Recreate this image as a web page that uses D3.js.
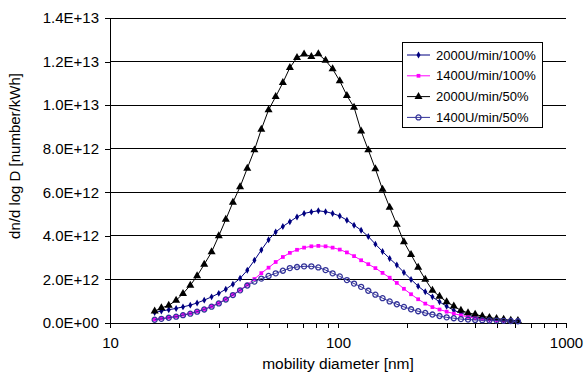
<!DOCTYPE html>
<html>
<head>
<meta charset="utf-8">
<script src="https://cdn.jsdelivr.net/npm/d3@7/dist/d3.min.js"></script>
<style>
  body { margin: 0; background: #fff; }
  svg { display: block; font-family: 'Liberation Sans', Arial, sans-serif; }
</style>
</head>
<body>
<figure id="graph" style="margin:0"></figure>
<script>
// mobility diameter [nm], one entry per SMPS channel
const diameters = [
  15.7, 16.8, 18.1, 19.5, 20.9, 22.5, 24.1, 25.9, 27.9, 30.0,
  32.2, 34.6, 37.2, 40.0, 43.0, 46.1, 49.6, 53.3, 57.3, 61.5,
  66.1, 71.0, 76.4, 82.0, 88.2, 94.7, 101.8, 109.4, 117.6, 126.3,
  135.8, 145.9, 156.8, 168.5, 181.1, 194.6, 209.1, 224.7, 241.4, 259.5,
  278.8, 299.6, 322.0, 346.0, 371.8, 399.5, 429.4, 461.4, 495.8, 532.8,
  572.5, 615.3
]

// dn/dlogD values in units of 1E+12 number/kWh
const rpm2000Full = [
  0.48, 0.55, 0.61, 0.67, 0.74, 0.82, 0.92, 1.05, 1.20, 1.36,
  1.55, 1.78, 2.05, 2.42, 2.88, 3.35, 3.82, 4.18, 4.43, 4.65,
  4.87, 5.03, 5.10, 5.15, 5.11, 5.03, 4.91, 4.72, 4.49, 4.26,
  3.97, 3.62, 3.28, 2.96, 2.66, 2.32, 2.00, 1.69, 1.43, 1.20,
  0.97, 0.77, 0.58, 0.46, 0.35, 0.28, 0.23, 0.18, 0.15, 0.12,
  0.11, 0.10
]
const rpm1400Full = [
  0.17, 0.21, 0.26, 0.31, 0.38, 0.45, 0.54, 0.64, 0.77, 0.92,
  1.10, 1.30, 1.52, 1.76, 2.02, 2.29, 2.54, 2.80, 3.03, 3.22,
  3.36, 3.46, 3.52, 3.54, 3.52, 3.46, 3.37, 3.24, 3.07, 2.88,
  2.70, 2.52, 2.30, 2.08, 1.84, 1.57, 1.32, 1.09, 0.89, 0.73,
  0.62, 0.52, 0.43, 0.35, 0.28, 0.23, 0.19, 0.16, 0.14, 0.12,
  0.10, 0.09
]
const rpm2000Half = [
  0.54, 0.69, 0.81, 1.04, 1.35, 1.73, 2.16, 2.69, 3.26, 4.00,
  4.75, 5.54, 6.25, 7.10, 7.94, 8.89, 9.78, 10.39, 11.03, 11.72,
  12.18, 12.34, 12.23, 12.35, 12.05, 11.66, 11.11, 10.44, 9.90, 8.81,
  7.94, 7.07, 6.13, 5.31, 4.52, 3.72, 3.14, 2.55, 2.00, 1.50,
  1.22, 0.97, 0.77, 0.58, 0.46, 0.40, 0.31, 0.25, 0.20, 0.17,
  0.12, 0.11
]
const rpm1400Half = [
  0.15, 0.19, 0.24, 0.29, 0.36, 0.43, 0.52, 0.62, 0.75, 0.90,
  1.08, 1.28, 1.50, 1.72, 1.90, 2.04, 2.16, 2.28, 2.40, 2.52,
  2.57, 2.60, 2.60, 2.55, 2.43, 2.28, 2.14, 1.97, 1.81, 1.66,
  1.48, 1.30, 1.14, 0.99, 0.86, 0.74, 0.63, 0.54, 0.46, 0.39,
  0.32, 0.26, 0.22, 0.18, 0.16, 0.14, 0.13, 0.12, 0.11, 0.10,
  0.09, 0.08
]

const seriesNames = ['2000U/min/100%', '1400U/min/100%', '2000U/min/50%', '1400U/min/50%']
const yTickValues = [0, 2, 4, 6, 8, 10, 12, 14]
const yTickLabels = ['0.0E+00', '2.0E+12', '4.0E+12', '6.0E+12', '8.0E+12', '1.0E+13', '1.2E+13', '1.4E+13']
const xTickLabels = ['10', '100', '1000']
const xTitle = 'mobility diameter [nm]'
const yTitle = 'dn/d log D [number/kWh]'

const width = 585
const height = 376
const margin = { top: 18, right: 19, bottom: 53, left: 110 }
const plotW = width - margin.left - margin.right
const plotH = height - margin.top - margin.bottom

const styles = [
  { values: rpm2000Full, line: '#000080', symbol: d3.symbolDiamond, size: 14, fill: '#000080', stroke: 'none' },
  { values: rpm1400Full, line: '#ff00ff', symbol: d3.symbolSquare, size: 14, fill: '#ff00ff', stroke: 'none' },
  { values: rpm2000Half, line: '#000000', symbol: d3.symbolTriangle, size: 28, fill: '#000000', stroke: 'none' },
  { values: rpm1400Half, line: '#333399', symbol: d3.symbolCircle, size: 20, fill: 'none', stroke: '#333399' }
]

const svg = d3.select('figure#graph')
  .append('svg')
  .attr('width', width)
  .attr('height', height)

const g = svg.append('g')
  .attr('transform', `translate(${margin.left}, ${margin.top})`)

const xScale = d3.scaleLog()
  .domain([10, 1000])
  .range([0, plotW])

const yScale = d3.scaleLinear()
  .domain([0, 14])
  .range([plotH, 0])

// gridlines
g.append('g')
  .selectAll('line')
  .data(yTickValues)
  .join('line')
  .attr('x1', 0)
  .attr('x2', plotW)
  .attr('y1', d => yScale(d))
  .attr('y2', d => yScale(d))
  .attr('stroke', '#000')
  .attr('stroke-width', 1)
  .attr('shape-rendering', 'crispEdges')

// axes
const yAxis = g.append('g')
  .attr('class', 'y axis')
  .call(d3.axisLeft(yScale)
    .tickValues(yTickValues)
    .tickSize(5)
    .tickPadding(6)
    .tickFormat((d, i) => yTickLabels[i]))

const xAxis = g.append('g')
  .attr('class', 'x axis')
  .attr('transform', `translate(0, ${plotH})`)
  .call(d3.axisBottom(xScale)
    .tickSize(5)
    .tickPadding(9)
    .tickFormat(d => xTickLabels.includes(String(d)) ? String(d) : ''))

g.selectAll('.axis .domain')
  .attr('stroke', '#000')
  .attr('shape-rendering', 'crispEdges')
g.selectAll('.axis line')
  .attr('stroke', '#000')
  .attr('shape-rendering', 'crispEdges')
g.selectAll('.axis text')
  .attr('fill', '#000')
  .attr('font-size', 15)
  .attr('font-family', "'Liberation Sans', Arial, sans-serif")
yAxis.select('.domain').attr('d', `M0.5,0V${plotH}`)
xAxis.select('.domain').attr('d', `M0,0.5H${plotW}`)

// axis titles
svg.append('text')
  .attr('x', margin.left + plotW / 2)
  .attr('y', 369)
  .attr('text-anchor', 'middle')
  .attr('font-size', 15.5)
  .text(xTitle)

svg.append('text')
  .attr('transform', `translate(20, ${margin.top + 138}) rotate(-90)`)
  .attr('text-anchor', 'middle')
  .attr('font-size', 15)
  .text(yTitle)

// series, drawn in legend order
const line = d3.line()
  .x((d, i) => xScale(diameters[i]))
  .y(d => yScale(d))

styles.forEach(s => {
  g.append('path')
    .datum(s.values)
    .attr('fill', 'none')
    .attr('stroke', s.line)
    .attr('stroke-width', 1)
    .attr('d', line)

  g.append('g')
    .selectAll('path')
    .data(s.values)
    .join('path')
    .attr('transform', (d, i) => `translate(${xScale(diameters[i])}, ${yScale(d)})`)
    .attr('d', d3.symbol(s.symbol, s.size))
    .attr('fill', s.fill)
    .attr('stroke', s.stroke)
    .attr('stroke-width', 1.3)
})

// legend
const legend = svg.append('g')
  .attr('transform', 'translate(402, 42)')

legend.append('rect')
  .attr('width', 140)
  .attr('height', 85)
  .attr('fill', '#fff')
  .attr('stroke', '#000')
  .attr('shape-rendering', 'crispEdges')

const rows = legend.selectAll('g.row')
  .data(styles)
  .join('g')
  .attr('class', 'row')
  .attr('transform', (d, i) => `translate(0, ${13 + i * 20.8})`)

rows.append('line')
  .attr('x1', 5)
  .attr('x2', 28)
  .attr('stroke', d => d.line)
  .attr('stroke-width', 1)

rows.append('path')
  .attr('transform', 'translate(16.5, 0)')
  .attr('d', d => d3.symbol(d.symbol, d.size)())
  .attr('fill', d => d.fill)
  .attr('stroke', d => d.stroke)
  .attr('stroke-width', 1.3)

rows.append('text')
  .attr('x', 34)
  .attr('dy', '0.35em')
  .attr('font-size', 13)
  .text((d, i) => seriesNames[i])
</script>
</body>
</html>
